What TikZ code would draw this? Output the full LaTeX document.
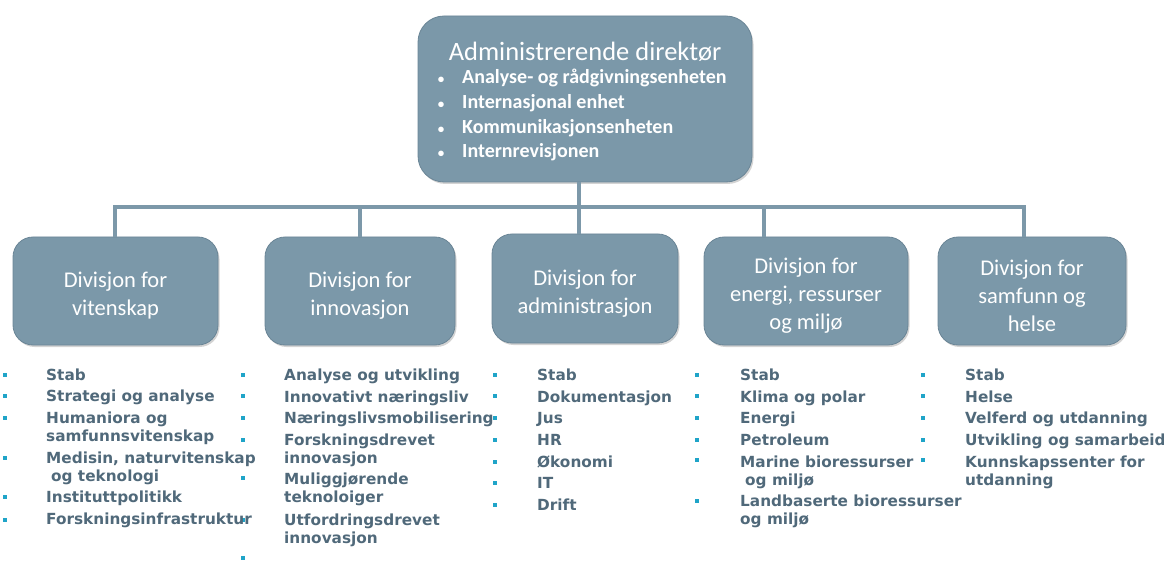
\documentclass[tikz,border=0pt]{standalone}
\usepackage{fontspec}
\setmainfont{Carlito}
\newfontfamily\listfont{DejaVu Sans}
\usetikzlibrary{shadows}
\definecolor{boxc}{HTML}{7B98A9}
\definecolor{boxedge}{HTML}{6A8596}
\definecolor{linec}{HTML}{7C98A9}
\definecolor{txtc}{HTML}{50697A}
\definecolor{bulc}{HTML}{1FA4C8}
\begin{document}
\begin{tikzpicture}[x=1pt,y=-1pt,
  orgbox/.style={fill=boxc, draw=boxedge, line width=0.8pt,
    drop shadow={shadow xshift=1.5pt, shadow yshift=-2pt, opacity=0.35}},
  divbox/.style={orgbox, rounded corners=20pt, minimum height=108pt},
  divlabel/.style={text=white, align=center, inner sep=0,
    font=\fontsize{22.5}{28}\selectfont},
  conn/.style={draw=linec, line width=4.5pt},
  topitem/.style={anchor=base west, inner sep=0, text=white,
    font=\bfseries\fontsize{20}{24}\selectfont},
  topdot/.style={anchor=base, inner sep=0, text=white,
    font=\bfseries\fontsize{13}{24}\selectfont},
  listitem/.style={anchor=base west, inner sep=0, text=txtc, align=left,
    font=\listfont\bfseries\fontsize{15.3}{18}\selectfont},
  bul/.style={fill=bulc, minimum size=4.5pt, inner sep=0}]
\useasboundingbox (0,0) rectangle (1164,561);

% top box
\node[orgbox, rounded corners=26pt, minimum width=334pt, minimum height=166pt] (top) at (585,99) {};
\node[anchor=base, inner sep=0, text=white, font=\fontsize{26.5}{30}\selectfont] (title) at (585,61) {Administrerende direktør};
\foreach \t [count=\i] in {Analyse- og rådgivningsenheten, Internasjonal enhet, Kommunikasjonsenheten, Internrevisjonen}{
  \node[topdot] (tdot\i) at (441,{84+24.6*(\i-1)}) {•};
  \node[topitem] (titem\i) at (462,{84+24.6*(\i-1)}) {\t};
}

% division boxes
\node[divbox, minimum width=205pt] (d1) at (115.5,291) {};
\node[divbox, minimum width=190pt] (d2) at (360,291) {};
\node[divbox, minimum width=186pt, minimum height=109pt] (d3) at (585,288.5) {};
\node[divbox, minimum width=204pt] (d4) at (806,291) {};
\node[divbox, minimum width=188pt] (d5) at (1032,291) {};
\node[divlabel] (d1t) at ([yshift=-5pt]d1.center) {Divisjon for\\vitenskap};
\node[divlabel] (d2t) at ([yshift=-5pt]d2.center) {Divisjon for\\innovasjon};
\node[divlabel] (d3t) at ([yshift=-5pt]d3.center) {Divisjon for\\administrasjon};
\node[divlabel] (d4t) at ([yshift=-5pt]d4.center) {Divisjon for\\energi, ressurser\\og miljø};
\node[divlabel] (d5t) at ([yshift=-5pt]d5.center) {Divisjon for\\samfunn og\\helse};

% connectors
\coordinate (b1) at (115,207);
\coordinate (b2) at (360,207);
\coordinate (b3) at (579,207);
\coordinate (b4) at (764,207);
\coordinate (b5) at (1024,207);
\draw[conn] (b1 |- d1.north) -- (b1) -- (b5) -- (b5 |- d5.north);
\draw[conn] (b3 |- top.south) -- (b3) -- (b3 |- d3.north);
\draw[conn] (b2) -- (b2 |- d2.north);
\draw[conn] (b4) -- (b4 |- d4.north);

% bullets
\foreach \c/\x/\ys in {1/5/{375,396,418,458,497,520},
                       2/243/{375,396,418,440,478,520,558},
                       3/495/{375,396,418,440,462,483,505},
                       4/697/{375,396,418,440,460,501},
                       5/923/{375,396,418,440,460}}{
  \foreach \y [count=\i] in \ys {
    \node[bul] (bul-\c-\i) at (\x,\y) {};
  }
}

% column 1 (multi-line items are placed by the baseline of their last line)
\node[listitem] (l11) at (46,380) {Stab};
\node[listitem] (l12) at (46,401) {Strategi og analyse};
\node[listitem] (l13) at (46,441) {Humaniora og\\samfunnsvitenskap};
\node[listitem] (l14) at (46,481) {Medisin, naturvitenskap\\\hspace*{5pt}og teknologi};
\node[listitem] (l15) at (46,502) {Instituttpolitikk};
\node[listitem] (l16) at (46,524) {Forskningsinfrastruktur};

% column 2
\node[listitem] (l21) at (284,380) {Analyse og utvikling};
\node[listitem] (l22) at (284,402) {Innovativt næringsliv};
\node[listitem] (l23) at (284,423) {Næringslivsmobilisering};
\node[listitem] (l24) at (284,463) {Forskningsdrevet\\innovasjon};
\node[listitem] (l25) at (284,502) {Muliggjørende\\teknoloiger};
\node[listitem] (l26) at (284,543) {Utfordringsdrevet\\innovasjon};

% column 3
\node[listitem] (l31) at (537,380) {Stab};
\node[listitem] (l32) at (537,402) {Dokumentasjon};
\node[listitem] (l33) at (537,423) {Jus};
\node[listitem] (l34) at (537,445) {HR};
\node[listitem] (l35) at (537,467) {Økonomi};
\node[listitem] (l36) at (537,488) {IT};
\node[listitem] (l37) at (537,510) {Drift};

% column 4
\node[listitem] (l41) at (740,380) {Stab};
\node[listitem] (l42) at (740,402) {Klima og polar};
\node[listitem] (l43) at (740,423) {Energi};
\node[listitem] (l44) at (740,445) {Petroleum};
\node[listitem] (l45) at (740,485) {Marine bioressurser\\\hspace*{5pt}og miljø};
\node[listitem] (l46) at (740,524) {Landbaserte bioressurser\\og miljø};

% column 5
\node[listitem] (l51) at (965,380) {Stab};
\node[listitem] (l52) at (965,402) {Helse};
\node[listitem] (l53) at (965,423) {Velferd og utdanning};
\node[listitem] (l54) at (965,445) {Utvikling og samarbeid};
\node[listitem] (l55) at (965,485) {Kunnskapssenter for\\utdanning};
\end{tikzpicture}
\end{document}
